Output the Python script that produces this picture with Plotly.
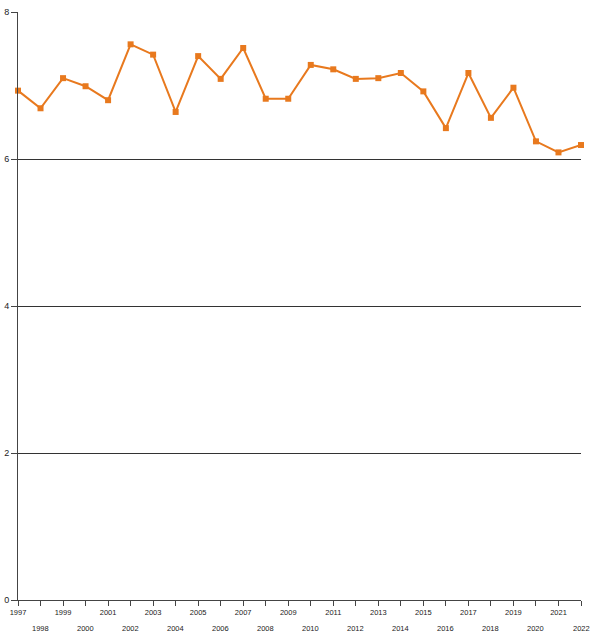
import plotly.graph_objects as go

years = list(range(1997, 2023))
values = [6.93, 6.69, 7.10, 6.99, 6.80, 7.56, 7.42, 6.64, 7.40, 7.09,
          7.51, 6.82, 6.82, 7.28, 7.22, 7.09, 7.10, 7.17, 6.92, 6.42,
          7.17, 6.56, 6.97, 6.24, 6.09, 6.19]
y_ticks = [0, 2, 4, 6, 8]

upper_text = [str(y) if (y - 1997) % 2 == 0 else "" for y in years]
lower_years = [y for y in years if (y - 1997) % 2 == 1]

fig = go.Figure()
fig.add_trace(go.Scatter(
    x=years, y=values, mode="lines+markers",
    line=dict(color="#E8791E", width=2),
    marker=dict(symbol="square", size=6, color="#E8791E"),
    cliponaxis=False, showlegend=False,
))

for y in lower_years:
    fig.add_annotation(
        x=y, y=0, xref="x", yref="paper", text=str(y), showarrow=False,
        yanchor="middle", xanchor="center", yshift=-28,
        font=dict(size=7.5, color="#222"),
    )

fig.update_layout(
    width=595, height=642,
    margin=dict(l=18, r=14, t=12, b=42, autoexpand=False),
    plot_bgcolor="white", paper_bgcolor="white",
    font=dict(family="Liberation Sans, Arial, sans-serif", color="#222", size=7.5),
    xaxis=dict(
        range=[1997, 2022], tickmode="array", tickvals=years, ticktext=upper_text,
        showgrid=False, showline=True, linecolor="#444", linewidth=1,
        ticks="outside", ticklen=5, tickcolor="#444", tickangle=0,
        tickfont=dict(size=7.5), zeroline=False, automargin=False,
    ),
    yaxis=dict(
        range=[0, 8], tickvals=y_ticks, showgrid=True, gridcolor="#333", gridwidth=1,
        showline=True, linecolor="#444", linewidth=1,
        ticks="outside", ticklen=6, tickcolor="#444",
        tickfont=dict(size=9), zeroline=False, automargin=False,
    ),
)

fig.write_html(
    "out.html",
    config={"displayModeBar": False},
    post_script="document.body.style.margin='0';document.body.style.overflow='hidden';",
)
